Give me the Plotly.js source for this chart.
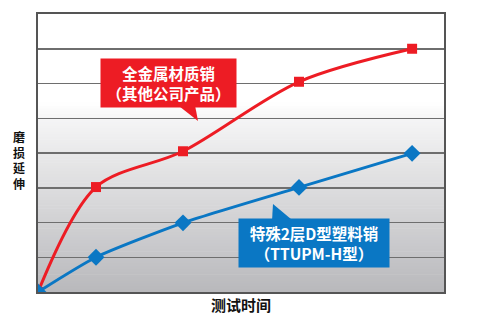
<!DOCTYPE html>
<html><head><meta charset="utf-8">
<script src="https://cdn.plot.ly/plotly-3.0.1.min.js"></script>
<style>html,body{margin:0;padding:0;background:#fff}#c{width:480px;height:320px}</style>
</head><body><div id="c"></div>
<script>
const testTime = [0, 2, 5, 9, 12.9];
const metalPin = [0, 3.02, 4.05, 6.05, 7.0];
const plasticPin = [0, 1.0, 1.99, 3.01, 3.99];
const metalLabel = '全金属材质销<br>（其他公司产品）';
const plasticLabel = '特殊2层D型塑料销<br>（TTUPM-H型）';
const xTitle = '测试时间';
const yTitle = '磨<br>损<br>延<br>伸';

const RED = '#ed1c24', BLUE = '#0a77c4';
const FONT = '"Noto Sans CJK SC", "Noto Sans", sans-serif';

const traces = [
  {x: testTime, y: metalPin, mode: 'lines+markers', line: {color: RED, width: 3, shape: 'spline', smoothing: 0.9},
   marker: {symbol: 'square', size: 10, color: RED}, hoverinfo: 'skip'},
  {x: testTime, y: plasticPin, mode: 'lines+markers', line: {color: BLUE, width: 3, shape: 'spline', smoothing: 0.6},
   marker: {symbol: 'diamond', size: 13, color: BLUE}, hoverinfo: 'skip'}
];

// background gradient bands (plot area)
const shapes = [];
const N = 60;
const top0 = 0.62, top1 = 0.68;
function lerp(a,b,t){return Math.round(a+(b-a)*t);}
for (let i = 0; i < N; i++) {
  const y0 = i / N * top0, y1 = (i + 1) / N * top0 + 0.002;
  const t = 1 - (i + 0.5) / N;
  const c0 = [244,244,245], c1 = [184,185,188];
  const c = [lerp(c0[0],c1[0],t), lerp(c0[1],c1[1],t), lerp(c0[2],c1[2],t)];
  shapes.push({type:'rect', xref:'x domain', yref:'y domain', x0:0, x1:1, y0:y0, y1:y1,
    fillcolor:`rgb(${c})`, line:{width:0}, layer:'below'});
}
for (let i = 0; i < 6; i++) {
  const y0 = top0 + i/6*(top1-top0), y1 = top0 + (i+1)/6*(top1-top0) + 0.002;
  const t = (i+0.5)/6;
  const v = lerp(244,255,t);
  shapes.push({type:'rect', xref:'x domain', yref:'y domain', x0:0, x1:1, y0:y0, y1:y1,
    fillcolor:`rgb(${v},${v},${v})`, line:{width:0}, layer:'below'});
}
// callout tails
shapes.push({type:'path', xref:'paper', yref:'paper', path:'M0.3448,0.672 L0.3867,0.672 L0.3941,0.6151 Z', fillcolor:RED, line:{width:0}});
shapes.push({type:'path', xref:'paper', yref:'paper', path:'M0.5764,0.256 L0.6281,0.256 L0.5788,0.3165 Z', fillcolor:BLUE, line:{width:0}});

const annotations = [
  {xref:'paper', yref:'paper', x:0.3214, y:0.7518, text: metalLabel, showarrow:false, bgcolor:RED,
   width:135, height:48, borderpad:0, font:{family:FONT, size:15.5, color:'#fff', weight:'bold'}, xanchor:'center', yanchor:'middle'},
  {xref:'paper', yref:'paper', x:0.6798, y:0.1763, text: plasticLabel, showarrow:false, bgcolor:BLUE,
   width:150, height:48, borderpad:0, font:{family:FONT, size:15.5, color:'#fff', weight:'bold'}, xanchor:'center', yanchor:'middle'},
  {xref:'paper', yref:'paper', x:(19-38)/406, y:(292-160)/278, text: yTitle, showarrow:false,
   font:{family:FONT, size:12, color:'#111', weight:'bold'}, xanchor:'center', yanchor:'middle'}
];

const layout = {
  width:480, height:320,
  margin:{l:38, r:36, t:14, b:28},
  paper_bgcolor:'#fff', plot_bgcolor:'#fff',
  showlegend:false,
  xaxis:{range:[0,14], showticklabels:false, ticks:'', showgrid:false, zeroline:false,
    showline:true, mirror:true, linecolor:'#555', linewidth:2,
    title:{text:xTitle, standoff:7, font:{family:FONT, size:15, color:'#111', weight:'bold'}}},
  yaxis:{range:[0,8], dtick:1, showticklabels:false, ticks:'', showgrid:true, gridcolor:'#6e6e6e', gridwidth:1.5,
    zeroline:false, showline:true, mirror:true, linecolor:'#555', linewidth:2},
  shapes: shapes,
  annotations: annotations
};
Plotly.newPlot('c', traces, layout, {staticPlot:true});
</script></body></html>
